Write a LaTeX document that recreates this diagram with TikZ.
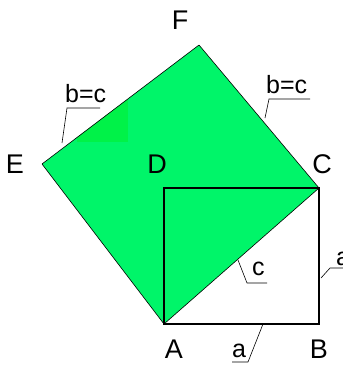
\documentclass[tikz,border=0pt]{standalone}
\usepackage{fontspec}
\setmainfont{Liberation Sans}
\usetikzlibrary{positioning}

\definecolor{sqgreen}{RGB}{0,245,105}
\definecolor{patchgreen}{RGB}{0,242,72}

\begin{document}
\begin{tikzpicture}[
    x=1pt, y=-1pt,
    lbl/.style={anchor=base, inner sep=0pt, font=\fontsize{27}{27}\selectfont},
    side/.style={anchor=base west, inner sep=0pt, font=\fontsize{25}{25}\selectfont},
    edge/.style={draw=black, line width=0.6pt, line join=round},
    frame/.style={draw=black, line width=2.4pt, line join=miter},
    lead/.style={draw=black, line width=0.6pt}
]
\useasboundingbox (0,0) rectangle (343,365);
\clip (0,0) rectangle (343,365);

% corners
\coordinate (A) at (164,324);
\coordinate (B) at (319,324);
\coordinate (C) at (319,188);
\coordinate (D) at (165,188);
\coordinate (E) at (42,164);
\coordinate (F) at (199,45);

% square on the hypotenuse
\fill[sqgreen] (A) -- (C) -- (F) -- (E) -- cycle;
\begin{scope}
  \clip (A) -- (C) -- (F) -- (E) -- cycle;
  \fill[patchgreen] (77,100) rectangle (128,142);
\end{scope}
\draw[edge] (A) -- (E) -- (F) -- (C);
\draw[edge] (A) -- (C);

% square on the leg
\draw[frame] (A) rectangle (C);

% corner letters
\node[lbl] (lF) at (180,29) {F};
\node[lbl] (lE) at (15,173) {E};
\node[lbl] (lD) at (157,173) {D};
\node[lbl] (lC) at (322,173) {C};
\node[lbl] (lA) at (174,358) {A};
\node[lbl] (lB) at (319,358) {B};

% side labels
\node[side] (sEF) at (65,102) {b=c};
\node[side] (sFC) at (266,93) {b=c};
\node[side] (sAC) at (252,275) {c};
\node[side] (sAB) at (232,357) {a};
\node[side] (sBC) at (336,265) {a};

% leader lines
\coordinate (tEF) at (62,143);
\coordinate (uEF) at (67,108);
\coordinate (vEF) at (100,108);
\coordinate (tFC) at (265,118);
\coordinate (uFC) at (269,99);
\coordinate (vFC) at (310,99);
\coordinate (tAC) at (238,260);
\coordinate (uAC) at (247,283);
\coordinate (vAC) at (267,283);
\coordinate (tAB) at (263,324);
\coordinate (uAB) at (248,362);
\coordinate (vAB) at (232,362);
\coordinate (tBC) at (321,278);
\coordinate (uBC) at (330,268);
\coordinate (vBC) at (343,268);

\draw[lead] (tEF) -- (uEF) -- (vEF);
\draw[lead] (tFC) -- (uFC) -- (vFC);
\draw[lead] (tAC) -- (uAC) -- (vAC);
\draw[lead] (tAB) -- (uAB) -- (vAB);
\draw[lead] (tBC) -- (uBC) -- (vBC);
\end{tikzpicture}
\end{document}
